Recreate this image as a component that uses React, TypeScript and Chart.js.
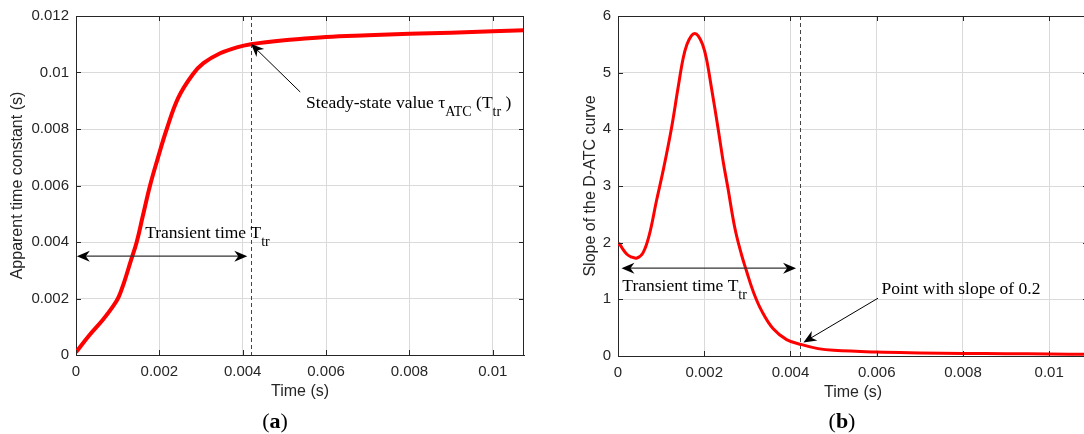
import React, { useEffect, useRef } from "react";
import { Chart, registerables } from "chart.js";
Chart.register(...registerables);

// ---------- data (a) apparent time constant ----------
const atcTime = [0, 0.00032, 0.00064, 0.0009, 0.001025, 0.00116, 0.0013, 0.001457, 0.0016, 0.001777, 0.00195, 0.002178, 0.002458, 0.0028, 0.003058, 0.003459, 0.00386, 0.00424, 0.00466, 0.005, 0.006, 0.007, 0.008, 0.009, 0.01, 0.01075];
const atcValue = [0.0001, 0.0007, 0.00124, 0.00175, 0.00206, 0.0026, 0.00326, 0.004, 0.0049, 0.006, 0.0069, 0.008, 0.00912, 0.00993, 0.01033, 0.01068, 0.01089, 0.01101, 0.01109, 0.01114, 0.01126, 0.01132, 0.01137, 0.01141, 0.01146, 0.0115];

// ---------- data (b) slope of the D-ATC curve ----------
const slopeTime = [0, 0.00003, 0.0001, 0.0002, 0.0003, 0.00044, 0.00058, 0.00072, 0.00089, 0.00106, 0.00124, 0.00139, 0.00151, 0.0016, 0.0017, 0.00178, 0.00186, 0.00196, 0.00205, 0.00217, 0.00232, 0.00244, 0.00255, 0.00271, 0.00286, 0.00298, 0.00313, 0.00333, 0.0036, 0.00391, 0.00426, 0.00464, 0.005, 0.006, 0.007, 0.008, 0.009, 0.01, 0.0109];
const slopeValue = [1.95, 1.98, 1.9, 1.8, 1.75, 1.73, 1.82, 2.12, 2.73, 3.32, 4.02, 4.72, 5.25, 5.5, 5.65, 5.69, 5.65, 5.5, 5.25, 4.72, 4.02, 3.43, 2.96, 2.26, 1.8, 1.5, 1.15, 0.8, 0.48, 0.29, 0.2, 0.13, 0.1, 0.07, 0.055, 0.045, 0.04, 0.035, 0.03];

// ---------- ticks ----------
const timeTicks = [0, 0.002, 0.004, 0.006, 0.008, 0.01];
const atcTicks = [0, 0.002, 0.004, 0.006, 0.008, 0.01, 0.012];
const slopeTicks = [0, 1, 2, 3, 4, 5, 6];

// ---------- annotations (data coordinates) ----------
const transientA = 0.0042;
const transientB = 0.00423;
const spanArrowA = [0.00002, 0.00411, 0.0035]; // x1, x2, y
const spanArrowB = [0.00008, 0.00413, 1.55];
const steadyArrowA = [0.00538, 0.00931, 0.0042, 0.01101]; // from x,y -> to x,y
const pointArrowB = [0.00603, 1.02, 0.0043, 0.24];
const labelTransientA = [0.00166, 0.00413];
const labelSteadyA = [0.00552, 0.00873];
const labelTransientB = [0.0001, 1.14];
const labelPointB = [0.00611, 1.1];

type Part = { t: string; sub?: boolean };
type Note = { x: number; y: number; parts: Part[] };
type Spec = {
  vline: number;
  span: number[];
  arrows: number[][];
  notes: Note[];
  xTitle: string;
  yTitle: string;
  yTitleX: number;
  panel: string;
  panelX: number;
};

const SANS = '"Liberation Sans", Arial, sans-serif';
const SERIF = '"Liberation Serif", "Times New Roman", serif';
const AXIS = "#262626";

function head(ctx: CanvasRenderingContext2D, tx: number, ty: number, ang: number) {
  const L = 13, W = 5.5, N = 9;
  const c = Math.cos(ang), s = Math.sin(ang);
  ctx.beginPath();
  ctx.moveTo(tx, ty);
  ctx.lineTo(tx - L * c + W * s, ty - L * s - W * c);
  ctx.lineTo(tx - N * c, ty - N * s);
  ctx.lineTo(tx - L * c - W * s, ty - L * s + W * c);
  ctx.closePath();
  ctx.fill();
}

function rich(ctx: CanvasRenderingContext2D, x: number, y: number, parts: Part[]) {
  let cx = x;
  ctx.textAlign = "left";
  ctx.textBaseline = "alphabetic";
  for (const p of parts) {
    ctx.font = p.sub ? `14px ${SERIF}` : `17.5px ${SERIF}`;
    ctx.fillText(p.t, cx, p.sub ? y + 8 : y);
    cx += ctx.measureText(p.t).width;
  }
}

function makePlugin(spec: Spec) {
  return {
    id: "annot",
    beforeDatasetsDraw(chart: any) {
      const { ctx, chartArea: a, scales } = chart;
      const px = Math.round(scales.x.getPixelForValue(spec.vline)) + 0.5;
      ctx.save();
      ctx.strokeStyle = "#444";
      ctx.lineWidth = 1;
      ctx.setLineDash([4, 3]);
      ctx.beginPath();
      ctx.moveTo(px, a.top);
      ctx.lineTo(px, a.bottom);
      ctx.stroke();
      ctx.restore();
    },
    afterDatasetsDraw(chart: any) {
      const { ctx, chartArea: a, scales } = chart;
      const xs = scales.x, ys = scales.y;
      ctx.save();
      // box
      ctx.strokeStyle = AXIS;
      ctx.lineWidth = 1;
      ctx.beginPath();
      ctx.moveTo(a.left, Math.round(a.top) + 0.5);
      ctx.lineTo(a.right, Math.round(a.top) + 0.5);
      ctx.moveTo(Math.round(a.right) - 0.5, a.top);
      ctx.lineTo(Math.round(a.right) - 0.5, a.bottom);
      // inward ticks
      for (const t of xs.ticks) {
        const p = Math.round(xs.getPixelForValue(t.value)) + 0.5;
        ctx.moveTo(p, a.bottom);
        ctx.lineTo(p, a.bottom - 5);
        ctx.moveTo(p, a.top);
        ctx.lineTo(p, a.top + 5);
      }
      for (const t of ys.ticks) {
        const p = Math.round(ys.getPixelForValue(t.value)) + 0.5;
        ctx.moveTo(a.left, p);
        ctx.lineTo(a.left + 5, p);
        ctx.moveTo(a.right, p);
        ctx.lineTo(a.right - 5, p);
      }
      ctx.stroke();

      // span double arrow
      const [x1, x2, yv] = spec.span;
      const sx1 = xs.getPixelForValue(x1), sx2 = xs.getPixelForValue(x2), sy = ys.getPixelForValue(yv);
      ctx.strokeStyle = "#333";
      ctx.fillStyle = "#000";
      ctx.lineWidth = 1.4;
      ctx.beginPath();
      ctx.moveTo(sx1 + 6, sy);
      ctx.lineTo(sx2 - 6, sy);
      ctx.stroke();
      head(ctx, sx1, sy, Math.PI);
      head(ctx, sx2, sy, 0);

      // pointer arrows
      ctx.strokeStyle = "#000";
      ctx.lineWidth = 1;
      for (const [fx, fy, tx, ty] of spec.arrows) {
        const ax = xs.getPixelForValue(fx), ay = ys.getPixelForValue(fy);
        const bx = xs.getPixelForValue(tx), by = ys.getPixelForValue(ty);
        const ang = Math.atan2(by - ay, bx - ax);
        ctx.beginPath();
        ctx.moveTo(ax, ay);
        ctx.lineTo(bx - 6 * Math.cos(ang), by - 6 * Math.sin(ang));
        ctx.stroke();
        head(ctx, bx, by, ang);
      }

      // notes
      ctx.fillStyle = "#000";
      for (const n of spec.notes) {
        rich(ctx, xs.getPixelForValue(n.x), ys.getPixelForValue(n.y), n.parts);
      }

      // axis titles
      ctx.fillStyle = AXIS;
      ctx.font = `16px ${SANS}`;
      ctx.textAlign = "center";
      ctx.textBaseline = "middle";
      ctx.fillText(spec.xTitle, (a.left + a.right) / 2, a.bottom + 37);
      ctx.save();
      ctx.translate(spec.yTitleX, (a.top + a.bottom) / 2);
      ctx.rotate(-Math.PI / 2);
      ctx.fillText(spec.yTitle, 0, 0);
      ctx.restore();

      // panel label
      ctx.fillStyle = "#000";
      ctx.textBaseline = "alphabetic";
      ctx.textAlign = "left";
      const fN = `22px ${SERIF}`, fB = `bold 22px ${SERIF}`;
      ctx.font = fN;
      const wp = ctx.measureText("(").width, wq = ctx.measureText(")").width;
      ctx.font = fB;
      const wl = ctx.measureText(spec.panel).width;
      let px = spec.panelX - (wp + wl + wq) / 2;
      const py = 428;
      ctx.font = fN;
      ctx.fillText("(", px, py);
      px += wp;
      ctx.font = fB;
      ctx.fillText(spec.panel, px, py);
      px += wl;
      ctx.font = fN;
      ctx.fillText(")", px, py);
      ctx.restore();
    },
  };
}

function fmt(v: number) {
  if (Math.abs(v) < 1e-12) return "0";
  return String(parseFloat(v.toFixed(5)));
}

function makeConfig(opts: {
  xs: number[]; ys: number[]; xMax: number; yMax: number; yTicks: number[];
  yWidth: number; xHeight: number; padding: any; lineWidth: number; spec: Spec;
}) {
  const data = opts.xs.map((x, i) => ({ x, y: opts.ys[i] }));
  const tickFont = { family: SANS, size: 15 };
  return {
    type: "line" as const,
    data: {
      datasets: [
        {
          data,
          borderColor: "#ff0000",
          borderWidth: opts.lineWidth,
          borderJoinStyle: "round" as const,
          pointRadius: 0,
          tension: 0.4,
          fill: false,
        },
      ],
    },
    options: {
      responsive: false,
      animation: false as const,
      devicePixelRatio: 1,
      layout: { padding: opts.padding },
      plugins: { legend: { display: false }, tooltip: { enabled: false } },
      events: [],
      scales: {
        x: {
          type: "linear" as const,
          min: 0,
          max: opts.xMax,
          afterBuildTicks: (s: any) => { s.ticks = timeTicks.map((v) => ({ value: v })); },
          afterFit: (s: any) => { s.height = opts.xHeight; },
          ticks: { callback: (v: any) => fmt(Number(v)), color: AXIS, font: tickFont, padding: 8, maxRotation: 0, autoSkip: false },
          grid: { color: "#dadada", lineWidth: 1, drawTicks: false },
          border: { display: true, color: AXIS, width: 1 },
        },
        y: {
          type: "linear" as const,
          min: 0,
          max: opts.yMax,
          afterBuildTicks: (s: any) => { s.ticks = opts.yTicks.map((v) => ({ value: v })); },
          afterFit: (s: any) => { s.width = opts.yWidth; },
          ticks: { callback: (v: any) => fmt(Number(v)), color: AXIS, font: tickFont, padding: 7, autoSkip: false },
          grid: { color: "#dadada", lineWidth: 1, drawTicks: false },
          border: { display: true, color: AXIS, width: 1 },
        },
      },
    },
    plugins: [makePlugin(opts.spec)],
  };
}

const specA: Spec = {
  vline: transientA,
  span: spanArrowA,
  arrows: [steadyArrowA],
  notes: [
    { x: labelTransientA[0], y: labelTransientA[1], parts: [{ t: "Transient time T" }, { t: "tr", sub: true }] },
    {
      x: labelSteadyA[0],
      y: labelSteadyA[1],
      parts: [{ t: "Steady-state value τ" }, { t: "ATC", sub: true }, { t: " (T" }, { t: "tr", sub: true }, { t: " )" }],
    },
  ],
  xTitle: "Time (s)",
  yTitle: "Apparent time constant (s)",
  yTitleX: 18,
  panel: "a",
  panelX: 275,
};

const specB: Spec = {
  vline: transientB,
  span: spanArrowB,
  arrows: [pointArrowB],
  notes: [
    { x: labelTransientB[0], y: labelTransientB[1], parts: [{ t: "Transient time T" }, { t: "tr", sub: true }] },
    { x: labelPointB[0], y: labelPointB[1], parts: [{ t: "Point with slope of 0.2" }] },
  ],
  xTitle: "Time (s)",
  yTitle: "Slope of the D-ATC curve",
  yTitleX: 51,
  panel: "b",
  panelX: 302,
};

export default function App() {
  const refA = useRef<HTMLCanvasElement>(null);
  const refB = useRef<HTMLCanvasElement>(null);

  useEffect(() => {
    const a = new Chart(refA.current!, makeConfig({
      xs: atcTime, ys: atcValue, xMax: 0.01075, yMax: 0.012, yTicks: atcTicks,
      yWidth: 76, xHeight: 79, padding: { left: 0, top: 16, right: 16, bottom: 0 }, lineWidth: 4, spec: specA,
    }) as any);
    const b = new Chart(refB.current!, makeConfig({
      xs: slopeTime, ys: slopeValue, xMax: 0.0109, yMax: 6, yTicks: slopeTicks,
      yWidth: 78, xHeight: 78, padding: { left: 0, top: 14, right: 12, bottom: 0 }, lineWidth: 3, spec: specB,
    }) as any);
    return () => { a.destroy(); b.destroy(); };
  }, []);

  return (
    <div style={{ position: "fixed", left: 0, top: 0, width: 1084, height: 434, overflow: "hidden", background: "#fff" }}>
      <canvas ref={refA} width={540} height={434} style={{ position: "absolute", left: 0, top: 0, width: 540, height: 434 }} />
      <canvas ref={refB} width={560} height={434} style={{ position: "absolute", left: 540, top: 0, width: 560, height: 434 }} />
    </div>
  );
}
